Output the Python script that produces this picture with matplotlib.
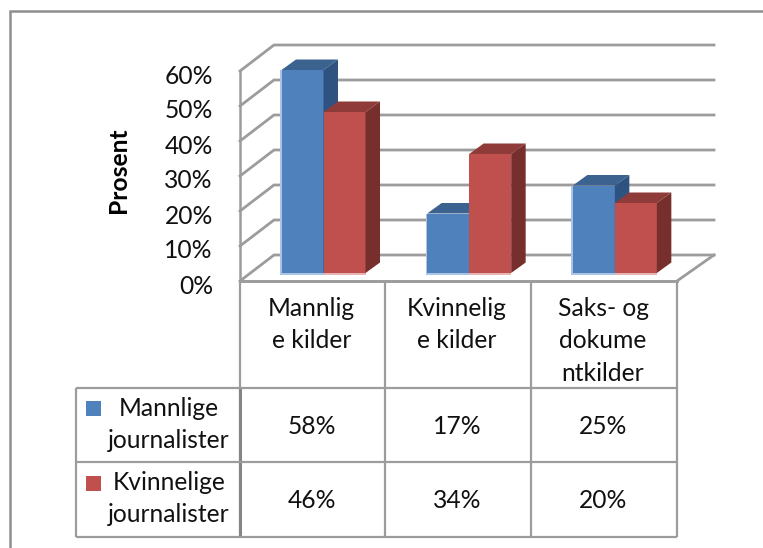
import matplotlib
matplotlib.use("Agg")
import matplotlib.pyplot as plt
from matplotlib.patches import Polygon, Rectangle
from matplotlib.transforms import ScaledTranslation

plt.rcParams["font.family"] = ["Lato", "DejaVu Sans"]

W, H = 763, 548
FS = 17.7

# Data
category_lines = ["Mannlig\ne kilder", "Kvinnelig\ne kilder", "Saks- og\ndokume\nntkilder"]
series_lines = ["Mannlige\njournalister", "Kvinnelige\njournalister"]
mannlige = [58, 17, 25]
kvinnelige = [46, 34, 20]
yticks = [0, 10, 20, 30, 40, 50, 60]

series = [mannlige, kvinnelige]
front = ["#4F81BD", "#C0504D"]
glow = ["#A9C4E4", "#E6B5B3"]
top = ["#3C6290", "#8F3B39"]
side = ["#2F5380", "#772F2D"]
GRID = "#9C9C9C"
INK = "#111111"

fig = plt.figure(figsize=(W / 100, H / 100), dpi=100)
fig.patch.set_facecolor("white")

# plot area = front plane of the 3d box
x0, x1, y0, y1 = 240, 677, 281, 71
ax = fig.add_axes([x0 / W, 1 - y0 / H, (x1 - x0) / W, (y0 - y1) / H])
ax.set_xlim(0, 3)
ax.set_ylim(0, 60)
ax.patch.set_alpha(0)
for s in ["top", "right"]:
    ax.spines[s].set_visible(False)
for s in ["left", "bottom"]:
    ax.spines[s].set_color(GRID)
    ax.spines[s].set_linewidth(1.8)
ax.set_xticks([])
ax.set_yticks(yticks)
ax.set_yticklabels([f"{v}%" for v in yticks], fontsize=FS, color=INK)
ax.tick_params(axis="y", length=0, pad=19.5)
shift = ScaledTranslation(0, -3 / 100, fig.dpi_scale_trans)
for t in ax.get_yticklabels():
    t.set_transform(t.get_transform() + shift)

ux = 3 / (x1 - x0)  # data units per pixel
uy = 60 / (y0 - y1)

# wall and floor depth
dx, dy = 34 * ux, 26 * uy
for v in yticks:
    ax.plot([0, dx, 3 + 37 * ux], [v, v + dy, v + dy], color=GRID, lw=2, clip_on=False, zorder=1,
            solid_joinstyle="miter")
ax.plot([3, 3 + 37 * ux], [0, dy], color=GRID, lw=2, clip_on=False, zorder=1)
ax.plot([0, 3], [0, 0], color=GRID, lw=2, clip_on=False, zorder=1)

# bars
bar_w = 42 * ux
first = 41.5 * ux
bottom = 8 * uy
bx, by = 14.5 * ux, 10.5 * uy
for i in range(3):
    for j, vals in enumerate(series):
        left = i + first + j * bar_w
        v = vals[i]
        z = 3 + j
        # light fringe, left edge only on the outer bar
        fringe = 1.5 * ux if j == 0 else 0
        ax.bar(left - fringe, v + 1.5 * uy, bar_w + fringe, bottom=bottom - 1.5 * uy, align="edge",
               color=glow[j], lw=0, zorder=z + 0.1, clip_on=False)
        ax.bar(left, v, bar_w, bottom=bottom, align="edge", color=front[j], lw=0, zorder=z + 0.2, clip_on=False)
        tv = v + bottom
        ax.add_patch(Polygon([(left, tv), (left + bx, tv + by), (left + bar_w + bx, tv + by), (left + bar_w, tv)],
                             closed=True, color=top[j], lw=0, zorder=z, clip_on=False))
        ax.add_patch(Polygon([(left + bar_w, bottom), (left + bar_w + bx, bottom + by),
                              (left + bar_w + bx, tv + by), (left + bar_w, tv)],
                             closed=True, color=side[j], lw=0, zorder=z + 0.3, clip_on=False))

# overlay in pixel coordinates for frame, data table and labels
ov = fig.add_axes([0, 0, 1, 1])
ov.set_xlim(0, W)
ov.set_ylim(H, 0)
ov.axis("off")
ov.patch.set_alpha(0)

ov.plot([10, 10, W], [H, 11, 11], color="#8E8E8E", lw=1.8, solid_joinstyle="miter")
ov.text(118, 170, "Prosent", rotation=90, ha="center", va="center", fontsize=FS, fontweight="bold", color="black")

col_x = [240, 385, 531, 677]
row_y = [282, 388, 462, 537]
left_x = 76
for x in col_x:
    ov.plot([x, x], [row_y[0], row_y[3]], color=GRID, lw=1.6, solid_capstyle="butt")
ov.plot([left_x, left_x], [row_y[1], row_y[3]], color=GRID, lw=1.6, solid_capstyle="butt")
ov.plot([240, 240], [row_y[1], row_y[3]], color="#858585", lw=2.2, solid_capstyle="butt")
for y in row_y[1:]:
    ov.plot([left_x, col_x[3]], [y, y], color=GRID, lw=1.6, solid_capstyle="butt")

for c, label in enumerate(category_lines):
    cx = (col_x[c] + col_x[c + 1]) / 2
    for n, line in enumerate(label.split("\n")):
        ov.text(cx - 1, 308.5 + n * 32.5, line, ha="center", va="center", fontsize=FS, color=INK)

for r, vals in enumerate(series):
    cy = (row_y[r + 1] + row_y[r + 2]) / 2
    ov.add_patch(Rectangle((86, cy - 24), 15, 15, color=front[r], lw=0))
    l1, l2 = series_lines[r].split("\n")
    ov.text(169, cy - 16.5, l1, ha="center", va="center", fontsize=FS, color=INK)
    ov.text(169, cy + 15.5, l2, ha="center", va="center", fontsize=FS, color=INK)
    for c, v in enumerate(vals):
        ov.text((col_x[c] + col_x[c + 1]) / 2 - 1, cy + 1, f"{v}%", ha="center", va="center", fontsize=FS, color=INK)

fig.savefig("out.png", dpi=100)
